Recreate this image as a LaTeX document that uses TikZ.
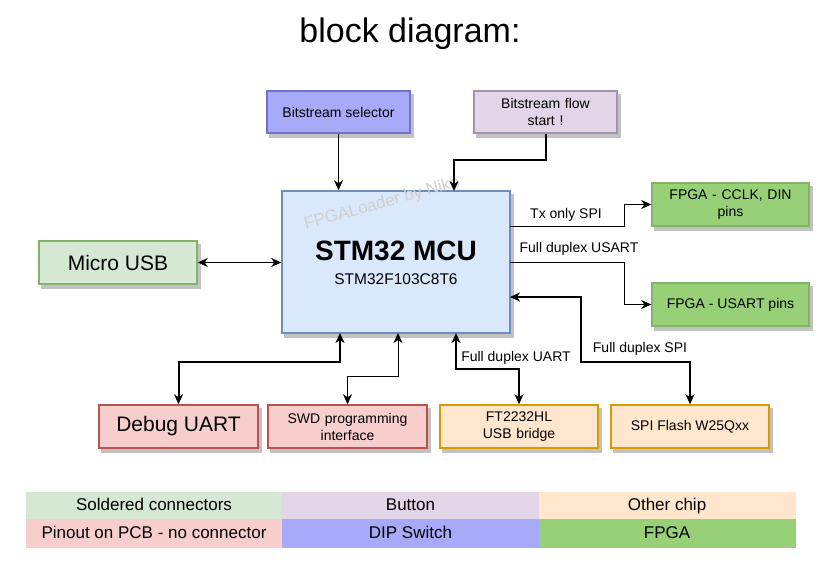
\documentclass[tikz,border=0pt]{standalone}
\usepackage{fontspec}
\setmainfont{Liberation Sans}
\usetikzlibrary{arrows.meta,calc}
\definecolor{selfill}{HTML}{A6AAF8}
\definecolor{selline}{HTML}{6E72C8}
\definecolor{flowfill}{HTML}{E1D5E7}
\definecolor{flowline}{HTML}{A88FB6}
\definecolor{mcufill}{HTML}{DAE8FC}
\definecolor{mculine}{HTML}{6C8EBF}
\definecolor{usbfill}{HTML}{D5E8D4}
\definecolor{grnline}{HTML}{82B366}
\definecolor{fpgafill}{HTML}{97D077}
\definecolor{redfill}{HTML}{F8CECC}
\definecolor{redline}{HTML}{B85450}
\definecolor{orgfill}{HTML}{FFE6CC}
\definecolor{orgline}{HTML}{D79B00}
\definecolor{shadowc}{HTML}{C2C2C2}
\definecolor{wmark}{HTML}{CFCFCF}
\tikzset{
  boxbase/.style={rectangle, draw, line width=1.5pt, inner sep=2pt, align=center,
    font=\fontsize{14}{17}\selectfont,
    preaction={fill=shadowc, draw=shadowc, transform canvas={xshift=3pt,yshift=-4pt}}},
  selbox/.style={boxbase, fill=selfill, draw=selline},
  flowbox/.style={boxbase, fill=flowfill, draw=flowline},
  mcubox/.style={boxbase, fill=mcufill, draw=mculine},
  usbbox/.style={boxbase, fill=usbfill, draw=grnline},
  fpgabox/.style={boxbase, fill=fpgafill, draw=grnline},
  redbox/.style={boxbase, fill=redfill, draw=redline},
  orgbox/.style={boxbase, fill=orgfill, draw=orgline},
  conn/.style={line width=1pt, -{Stealth[length=10pt,width=9pt,inset=3pt]}},
  conn2/.style={line width=1pt, {Stealth[length=10pt,width=9pt,inset=3pt]}-{Stealth[length=10pt,width=9pt,inset=3pt]}},
  lbl/.style={font=\fontsize{14}{17}\selectfont, inner sep=0pt},
  legcell/.style={rectangle, draw=none, inner sep=0pt, minimum width=257pt, minimum height=27.5pt,
    text height=12.5pt, text depth=3.5pt, font=\fontsize{17}{20}\selectfont}
}
\begin{document}
\begin{tikzpicture}[x=1pt, y=-1pt]
\useasboundingbox (0,0) rectangle (834,567);
% title
\node (title) at (410,34) {\fontsize{34}{39}\selectfont block diagram:};
% boxes
\node[selbox, minimum width=143pt, minimum height=42pt] (sel) at (338.5,112) {Bitstream selector};
\node[flowbox, minimum width=143pt, minimum height=42pt, text width=130pt] (flow) at (545.5,112) {Bitstream flow\\start !};
\node[mcubox, minimum width=228pt, minimum height=142pt] (mcu) at (396,262) {};
\node[usbbox, minimum width=158pt, minimum height=43pt, font=\fontsize{21}{24}\selectfont] (usb) at (118,262.5) {Micro USB};
\node[fpgabox, minimum width=157pt, minimum height=43pt, text width=150pt] (fpga1) at (730.5,204.5) {FPGA - CCLK, DIN\\pins};
\node[fpgabox, minimum width=157pt, minimum height=43pt] (fpga2) at (730.5,304.5) {FPGA - USART pins};
\node[redbox, minimum width=159pt, minimum height=43pt, font=\fontsize{21}{24}\selectfont] (debug) at (178.5,426.5) {Debug UART};
\node[redbox, minimum width=159pt, minimum height=43pt, text width=150pt] (swd) at (347.5,426.5) {SWD programming\\interface};
\node[orgbox, minimum width=158pt, minimum height=43pt, text width=150pt] (ft) at (519,426.5) {FT2232HL\\USB bridge};
\node[orgbox, minimum width=158pt, minimum height=43pt] (spi) at (690,426.5) {SPI Flash W25Qxx};
% mcu texts
\node[inner sep=0pt] (mcut1) at (396,251) {\fontsize{28}{32}\selectfont\bfseries STM32 MCU};
\node[inner sep=0pt] (mcut2) at (396,279) {\fontsize{15.5}{18}\selectfont STM32F103C8T6};
% watermark
\node[text=wmark, rotate=15.5, inner sep=0pt] (wm) at (382,204) {\fontsize{17}{20}\selectfont FPGALoader by Niko};
% connector coordinates
\coordinate (mcuTop2) at (454,191);
\coordinate (flowBend) at (545.5,160);
\coordinate (mcuTx) at (510,226);
\coordinate (mcuUs) at (510,262);
\coordinate (mcuSpi) at (510,297);
\coordinate (mcuDbg) at (340,333);
\coordinate (mcuSwd) at (398,333);
\coordinate (mcuFt) at (456,333);
% connectors
\draw[conn] (sel.south) -- (sel.south |- mcu.north);
\draw[conn, line width=2pt] (flow.south) -- (flowBend) -| (mcuTop2);
\draw[conn2] (usb.east) -- (usb.east -| mcu.west);
\draw[conn] (mcuTx) -- (624,226) |- (fpga1.west);
\draw[conn] (mcuUs) -- (624,262) |- (fpga2.west);
\draw[conn2, line width=1.6pt] (mcuSpi) -- (581,297) -- (581,362) -| (spi.north);
\draw[conn2, line width=2pt] (mcuDbg) -- (340,362) -| (debug.north);
\draw[conn2] (mcuSwd) -- (398,376) -| (swd.north);
\draw[conn2, line width=1.5pt] (mcuFt) -- (456,369) -| (ft.north);
% labels
\node[lbl] (ltx) at (566,215) {Tx only SPI};
\node[lbl] (lus) at (579,249) {Full duplex USART};
\node[lbl] (lspi) at (640,349) {Full duplex SPI};
\node[lbl] (lft) at (516,358) {Full duplex UART};
% legend
\node[legcell, fill=usbfill] (leg1) at (154,505.5) {Soldered connectors};
\node[legcell, fill=flowfill] (leg2) at (410.5,505.5) {Button};
\node[legcell, fill=orgfill] (leg3) at (667,505.5) {Other chip};
\node[legcell, fill=redfill, minimum height=28.5pt] (leg4) at (154,533.5) {Pinout on PCB - no connector};
\node[legcell, fill=selfill, minimum height=28.5pt] (leg5) at (410.5,533.5) {DIP Switch};
\node[legcell, fill=fpgafill, minimum height=28.5pt] (leg6) at (667,533.5) {FPGA};
\end{tikzpicture}
\end{document}
